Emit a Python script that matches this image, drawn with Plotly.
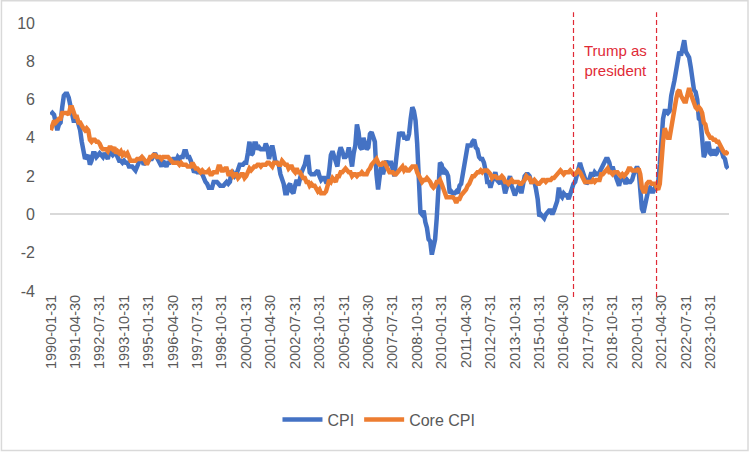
import pandas as pd
import plotly.graph_objects as go

dates = [d.strftime("%Y-%m-%d") for d in pd.date_range("1990-01-31", periods=417, freq="ME")]

cpi = [
    5.2, 5.3, 5.2, 4.7, 4.4, 4.7, 4.8, 5.6, 6.2, 6.3, 6.3, 6.1,
    5.7, 5.3, 4.9, 4.9, 5.0, 4.7, 4.4, 3.8, 3.4, 2.9, 3.0, 3.1,
    2.6, 2.8, 3.2, 3.2, 3.0, 3.1, 3.2, 3.1, 3.0, 3.2, 3.0, 2.9,
    3.3, 3.2, 3.1, 3.2, 3.2, 3.0, 2.8, 2.8, 2.7, 2.8, 2.7, 2.7,
    2.5, 2.5, 2.5, 2.4, 2.3, 2.5, 2.8, 2.9, 3.0, 2.6, 2.7, 2.7,
    2.8, 2.9, 2.9, 3.1, 3.2, 3.0, 2.8, 2.6, 2.5, 2.8, 2.6, 2.5,
    2.7, 2.7, 2.8, 2.9, 2.9, 2.8, 3.0, 2.9, 3.0, 3.0, 3.3, 3.3,
    3.0, 3.0, 2.8, 2.5, 2.2, 2.3, 2.2, 2.2, 2.2, 2.1, 1.8, 1.7,
    1.6, 1.4, 1.4, 1.4, 1.7, 1.7, 1.7, 1.6, 1.5, 1.5, 1.5, 1.6,
    1.7, 1.6, 1.7, 2.3, 2.1, 2.0, 2.1, 2.3, 2.6, 2.6, 2.6, 2.7,
    2.7, 3.2, 3.8, 3.1, 3.2, 3.7, 3.7, 3.4, 3.5, 3.4, 3.4, 3.4,
    3.7, 3.5, 2.9, 3.3, 3.6, 3.2, 2.7, 2.7, 2.6, 2.1, 1.9, 1.6,
    1.1, 1.1, 1.5, 1.6, 1.2, 1.1, 1.5, 1.8, 1.5, 2.0, 2.2, 2.4,
    2.6, 3.0, 3.0, 2.2, 2.1, 2.1, 2.1, 2.2, 2.3, 2.0, 1.8, 1.9,
    1.9, 1.7, 1.7, 2.3, 3.1, 3.3, 3.0, 2.7, 2.5, 3.2, 3.5, 3.3,
    3.0, 3.0, 3.1, 3.5, 2.8, 2.5, 3.2, 3.6, 4.7, 4.3, 3.5, 3.4,
    4.0, 3.6, 3.4, 3.5, 4.2, 4.3, 4.1, 3.8, 2.1, 1.3, 2.0, 2.5,
    2.1, 2.4, 2.8, 2.6, 2.7, 2.7, 2.4, 2.0, 2.8, 3.5, 4.3, 4.1,
    4.3, 4.0, 4.0, 3.9, 4.2, 5.0, 5.6, 5.4, 4.9, 3.7, 1.1, 0.1,
    0.0, 0.2, -0.4, -0.7, -1.3, -1.4, -2.1, -1.5, -1.3, -0.2, 1.8, 2.7,
    2.6, 2.1, 2.3, 2.2, 2.0, 1.1, 1.2, 1.1, 1.1, 1.2, 1.1, 1.5,
    1.6, 2.1, 2.7, 3.2, 3.6, 3.6, 3.6, 3.8, 3.9, 3.5, 3.4, 3.0,
    2.9, 2.9, 2.7, 2.3, 1.7, 1.7, 1.4, 1.7, 2.0, 2.2, 1.8, 1.7,
    1.6, 2.0, 1.5, 1.1, 1.4, 1.8, 2.0, 1.5, 1.2, 1.0, 1.2, 1.5,
    1.6, 1.1, 1.5, 2.0, 2.1, 2.1, 2.0, 1.7, 1.7, 1.7, 1.3, 0.8,
    -0.1, 0.0, -0.1, -0.2, 0.0, 0.1, 0.2, 0.2, 0.0, 0.2, 0.5, 0.7,
    1.4, 1.0, 0.9, 1.1, 1.0, 1.0, 0.8, 1.1, 1.5, 1.6, 1.7, 2.1,
    2.5, 2.7, 2.4, 2.2, 1.9, 1.6, 1.7, 1.9, 2.2, 2.0, 2.2, 2.1,
    2.1, 2.2, 2.4, 2.5, 2.8, 2.9, 2.9, 2.7, 2.3, 2.5, 2.2, 1.9,
    1.6, 1.5, 1.9, 2.0, 1.8, 1.6, 1.8, 1.7, 1.7, 1.8, 2.1, 2.3,
    2.5, 2.3, 1.5, 0.3, 0.1, 0.6, 1.0, 1.3, 1.4, 1.2, 1.2, 1.4,
    1.4, 1.7, 2.6, 4.2, 5.0, 5.4, 5.4, 5.3, 5.4, 6.2, 6.8, 7.0,
    7.5, 7.9, 8.5, 8.3, 8.6, 9.1, 8.5, 8.3, 8.2, 7.7, 7.1, 6.5,
    6.4, 6.0, 5.0, 4.9, 4.0, 3.0, 3.2, 3.7, 3.7, 3.2, 3.1, 3.4,
    3.1, 3.2, 3.5, 3.4, 3.3, 3.0, 2.9, 2.5, 2.4,
]

core_cpi = [
    4.4, 4.6, 4.9, 4.8, 4.9, 5.0, 5.0, 5.3, 5.3, 5.3, 5.3, 5.2,
    5.6, 5.6, 5.3, 5.1, 5.1, 4.8, 4.8, 4.6, 4.5, 4.4, 4.5, 4.4,
    3.9, 3.8, 3.9, 3.9, 3.8, 3.8, 3.7, 3.5, 3.4, 3.4, 3.4, 3.3,
    3.5, 3.5, 3.4, 3.5, 3.2, 3.3, 3.2, 3.3, 3.1, 3.2, 3.1, 3.2,
    2.9, 2.8, 2.8, 2.8, 2.8, 2.9, 2.9, 2.9, 3.0, 2.9, 2.8, 2.6,
    2.9, 3.0, 3.0, 3.1, 3.1, 3.0, 3.0, 3.0, 2.9, 3.0, 3.0, 3.0,
    3.0, 2.9, 2.8, 2.7, 2.7, 2.7, 2.7, 2.6, 2.7, 2.6, 2.6, 2.6,
    2.5, 2.5, 2.5, 2.7, 2.5, 2.4, 2.4, 2.3, 2.2, 2.3, 2.2, 2.2,
    2.2, 2.3, 2.1, 2.1, 2.2, 2.2, 2.2, 2.5, 2.5, 2.3, 2.3, 2.4,
    2.4, 2.1, 2.1, 2.2, 2.0, 2.1, 2.1, 1.9, 2.0, 2.1, 2.1, 1.9,
    2.0, 2.2, 2.4, 2.3, 2.4, 2.5, 2.5, 2.6, 2.6, 2.5, 2.6, 2.6,
    2.6, 2.7, 2.7, 2.6, 2.5, 2.7, 2.7, 2.7, 2.6, 2.6, 2.8, 2.7,
    2.6, 2.6, 2.4, 2.5, 2.5, 2.3, 2.2, 2.4, 2.2, 2.2, 2.0, 1.9,
    1.9, 1.7, 1.7, 1.5, 1.6, 1.5, 1.5, 1.3, 1.2, 1.3, 1.1, 1.1,
    1.1, 1.2, 1.6, 1.8, 1.7, 1.9, 1.8, 1.7, 2.0, 2.0, 2.2, 2.2,
    2.3, 2.4, 2.3, 2.2, 2.2, 2.0, 2.1, 2.1, 2.0, 2.1, 2.1, 2.2,
    2.1, 2.1, 2.1, 2.3, 2.4, 2.6, 2.7, 2.8, 2.9, 2.7, 2.6, 2.6,
    2.7, 2.7, 2.5, 2.3, 2.2, 2.2, 2.2, 2.1, 2.1, 2.2, 2.3, 2.4,
    2.5, 2.3, 2.4, 2.3, 2.3, 2.4, 2.5, 2.5, 2.5, 2.2, 2.0, 1.8,
    1.7, 1.8, 1.8, 1.9, 1.8, 1.7, 1.5, 1.4, 1.5, 1.7, 1.7, 1.8,
    1.6, 1.3, 1.1, 0.9, 0.9, 0.9, 0.9, 0.9, 0.8, 0.6, 0.8, 0.8,
    1.0, 1.1, 1.2, 1.3, 1.5, 1.6, 1.8, 2.0, 2.0, 2.1, 2.2, 2.2,
    2.3, 2.2, 2.3, 2.3, 2.3, 2.2, 2.1, 1.9, 2.0, 2.0, 1.9, 1.9,
    1.9, 2.0, 1.9, 1.7, 1.7, 1.6, 1.7, 1.8, 1.7, 1.7, 1.7, 1.7,
    1.6, 1.6, 1.7, 1.8, 2.0, 1.9, 1.9, 1.7, 1.7, 1.8, 1.7, 1.6,
    1.6, 1.7, 1.8, 1.8, 1.7, 1.8, 1.8, 1.8, 1.9, 1.9, 2.0, 2.1,
    2.2, 2.3, 2.2, 2.1, 2.2, 2.2, 2.2, 2.3, 2.2, 2.1, 2.1, 2.2,
    2.3, 2.2, 2.0, 1.9, 1.7, 1.7, 1.7, 1.7, 1.7, 1.8, 1.7, 1.8,
    1.8, 1.8, 2.1, 2.1, 2.2, 2.3, 2.4, 2.2, 2.2, 2.1, 2.2, 2.2,
    2.2, 2.1, 2.0, 2.1, 2.0, 2.1, 2.2, 2.4, 2.4, 2.3, 2.3, 2.3,
    2.3, 2.4, 2.1, 1.4, 1.2, 1.2, 1.6, 1.7, 1.7, 1.6, 1.6, 1.6,
    1.4, 1.3, 1.6, 3.0, 3.8, 4.5, 4.3, 4.0, 4.0, 4.6, 4.9, 5.5,
    6.0, 6.4, 6.5, 6.2, 6.0, 5.9, 5.9, 6.3, 6.6, 6.3, 6.0, 5.7,
    5.6, 5.5, 5.6, 5.5, 5.3, 4.8, 4.7, 4.3, 4.1, 4.0, 4.0, 3.9,
    3.9, 3.8, 3.8, 3.6, 3.4, 3.3, 3.2, 3.2, 3.3,
]

tick_labels = dates[::15]
y_ticks = [-4, -2, 0, 2, 4, 6, 8, 10]
y_tick_text = ["-4", "-2", "0", "2", "4", "6", "8", "10"]
trump_start = "2016-10-31"
trump_end = "2021-01-31"

fig = go.Figure()
fig.add_trace(go.Scatter(x=dates, y=cpi, mode="lines", name="CPI",
                         line=dict(color="#4472C4", width=4.5)))
fig.add_trace(go.Scatter(x=dates, y=core_cpi, mode="lines", name="Core CPI",
                         line=dict(color="#ED7D31", width=4.5)))

i0 = dates.index(trump_start)
i1 = dates.index(trump_end)
for i in (i0, i1):
    fig.add_shape(type="line", xref="x", yref="paper", x0=i, x1=i, y0=-0.022, y1=1.04,
                  line=dict(color="#E02A36", width=1.2, dash="5px,3px"))

fig.add_annotation(x=(i0 + i1) / 2, y=8.05, xref="x", yref="y",
                   text="Trump as<br>president", showarrow=False,
                   font=dict(family="Liberation Sans", size=15, color="#E02A36"),
                   align="center")

fig.add_shape(type="rect", xref="paper", yref="paper",
              x0=-0.0715, x1=1.028, y0=-0.595, y1=1.083,
              line=dict(color="#D9D9D9", width=1.5), layer="below")

fig.update_layout(
    width=751, height=452,
    margin=dict(l=50, r=22, t=23, b=161),
    paper_bgcolor="white", plot_bgcolor="white",
    showlegend=True,
    legend=dict(orientation="h", x=0.4845, xanchor="center", y=-0.48, yanchor="middle",
                font=dict(family="Liberation Sans", size=16, color="#595959"),
                itemwidth=40),
    font=dict(family="Liberation Sans", color="#595959"),
)
fig.update_xaxes(type="category", range=[-0.5, len(dates) - 0.5],
                 tickmode="array", tickvals=tick_labels, ticktext=tick_labels,
                 tickangle=-90, tickfont=dict(size=14.5, color="#595959"),
                 showgrid=False, showline=False, zeroline=False, ticks="")
fig.update_yaxes(range=[-4, 10], tickmode="array", tickvals=y_ticks, ticktext=y_tick_text,
                 showgrid=False,
                 zeroline=True, zerolinecolor="#D9D9D9", zerolinewidth=2,
                 showline=False, ticks="", tickfont=dict(size=16, color="#595959"),
                 ticklabelstandoff=14)

fig.write_html("out.html", config={"displayModeBar": False},
               post_script="document.body.style.margin='0';")
